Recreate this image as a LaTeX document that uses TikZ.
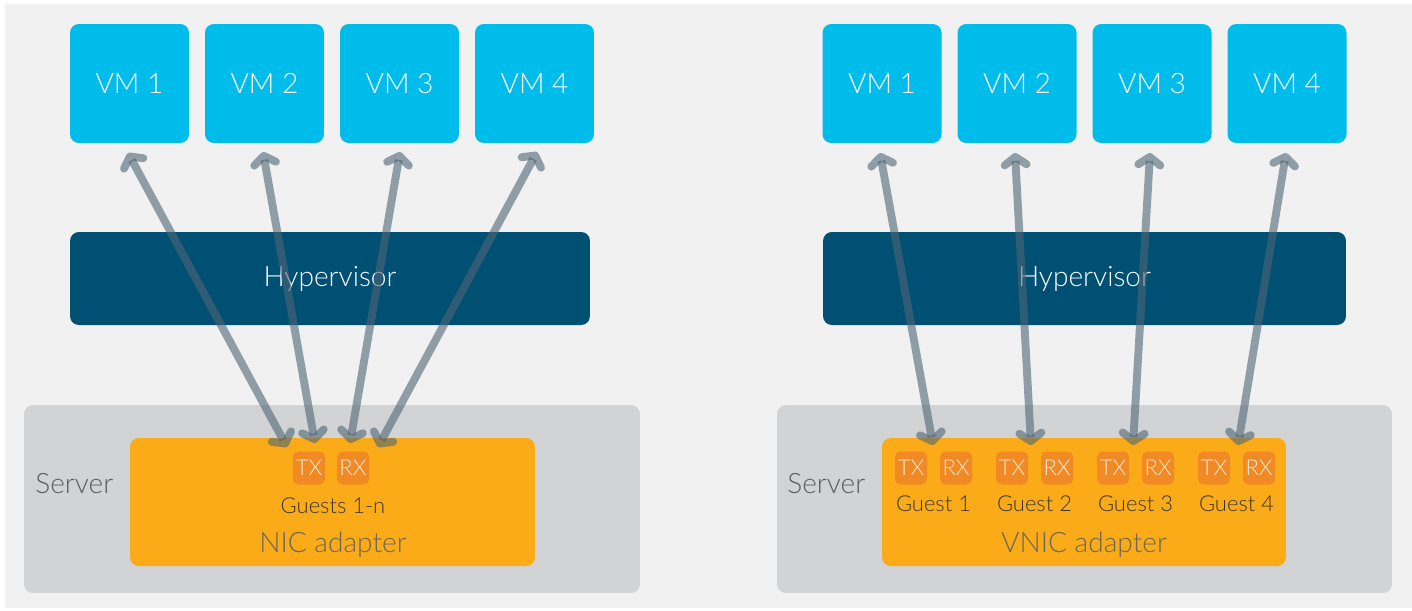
\documentclass[tikz,border=0pt]{standalone}
\usepackage{fontspec}
\setmainfont{Lato Light}
\usetikzlibrary{arrows.meta}
\definecolor{pagebg}{HTML}{F1F1F1}
\definecolor{vmblue}{HTML}{00BCEB}
\definecolor{hypblue}{HTML}{005073}
\definecolor{servergray}{HTML}{D2D3D5}
\definecolor{nicorange}{HTML}{FBAB18}
\definecolor{portorange}{HTML}{F18A24}
\definecolor{porttext}{HTML}{FDE7CF}
\definecolor{linkgray}{HTML}{4F6575}
\definecolor{labelgray}{HTML}{5E5E5E}
\definecolor{adaptertext}{HTML}{6E6656}
\definecolor{guesttext}{HTML}{3A3530}
\tikzset{
  vmbox/.style={fill=vmblue, rounded corners=5pt, minimum width=2.38cm, minimum height=2.38cm,
    inner sep=0pt, text=white, font=\fontsize{16}{19}\selectfont},
  hypbox/.style={fill=hypblue, rounded corners=5pt, minimum height=1.86cm, inner sep=0pt,
    text=white, font=\fontsize{16}{19}\selectfont},
  serverbox/.style={fill=servergray, rounded corners=5pt, minimum width=12.32cm, minimum height=3.76cm, inner sep=0pt},
  adapterbox/.style={fill=nicorange, rounded corners=5pt, minimum height=2.56cm, inner sep=0pt},
  portbox/.style={fill=portorange, rounded corners=3pt, minimum width=0.64cm, minimum height=0.66cm,
    inner sep=0pt, text=porttext, font=\fontsize{12.5}{14}\selectfont},
  servertext/.style={text=labelgray, font=\fontsize{16}{18}\selectfont, inner sep=0pt},
  adaptertxt/.style={text=adaptertext, font=\fontsize{16}{18}\selectfont, inner sep=0pt},
  guesttxt/.style={text=guesttext, font=\fontsize{12.5}{14}\selectfont, inner sep=0pt},
  link/.style={draw=linkgray, draw opacity=0.6, line width=4.5pt,
    {Straight Barb[length=4.5pt,width=12.5pt,round]}-{Straight Barb[length=4.5pt,width=12.5pt,round]}}
}
\begin{document}
\begin{tikzpicture}[x=0.02cm,y=-0.02cm]
% canvas
\fill[white] (0,0) rectangle (1412,610);
\fill[pagebg] (5,4) rectangle (1412,608);
\useasboundingbox (0,0) rectangle (1412,610);

% ---------- left: shared NIC ----------
\node[serverbox] (srvL) at (332,499) {};
\node[adapterbox, minimum width=8.1cm] (nicL) at (332.5,502) {};
\node[servertext, anchor=west] (srvLtxt) at (35,484) {Server};
\node[portbox] (txL) at (309,468) {TX};
\node[portbox] (rxL) at (353,468) {RX};
\node[guesttxt] (gL) at (333,506) {Guests 1-n};
\node[adaptertxt] (nicLtxt) at (333,545) {NIC adapter};

\foreach \i/\x in {1/129.5,2/264.5,3/399.5,4/534.5}
  \node[vmbox] (vmL\i) at (\x,83.5) {VM \i};
\node[hypbox, minimum width=10.4cm] (hypL) at (330,278.5) {Hypervisor};

\coordinate (tL1) at (128,153);
\coordinate (tL2) at (263,152);
\coordinate (tL3) at (400,152);
\coordinate (tL4) at (537,152);
\coordinate (bL1) at (287,447);
\coordinate (bL2) at (315,443);
\coordinate (bL3) at (350,443);
\coordinate (bL4) at (378,447);
\foreach \i in {1,...,4}
  \draw[link] (tL\i) -- (bL\i);

% ---------- right: VNIC per guest ----------
\node[serverbox, minimum width=12.3cm] (srvR) at (1084.5,499) {};
\node[adapterbox, minimum width=8.08cm] (nicR) at (1084,502) {};
\node[servertext, anchor=west] (srvRtxt) at (787,484) {Server};
\foreach \i/\t/\r in {1/911/956,2/1012/1057,3/1113/1158,4/1214/1259}{
  \node[portbox] (txR\i) at (\t,468) {TX};
  \node[portbox] (rxR\i) at (\r,468) {RX};
  \node[guesttxt] (gR\i) at ({(\t+\r)/2},504) {Guest \i};
}
\node[adaptertxt] (nicRtxt) at (1084,545) {VNIC adapter};

\foreach \i/\x in {1/882,2/1017,3/1152,4/1287}
  \node[vmbox] (vmR\i) at (\x,83.5) {VM \i};
\node[hypbox, minimum width=10.46cm] (hypR) at (1084.5,278.5) {Hypervisor};

\coordinate (tR1) at (880,153);
\coordinate (tR2) at (1015,153);
\coordinate (tR3) at (1150,153);
\coordinate (tR4) at (1286,153);
\coordinate (bR1) at (933,445);
\coordinate (bR2) at (1031,445);
\coordinate (bR3) at (1133,445);
\coordinate (bR4) at (1238,445);
\foreach \i in {1,...,4}
  \draw[link] (tR\i) -- (bR\i);
\end{tikzpicture}
\end{document}
